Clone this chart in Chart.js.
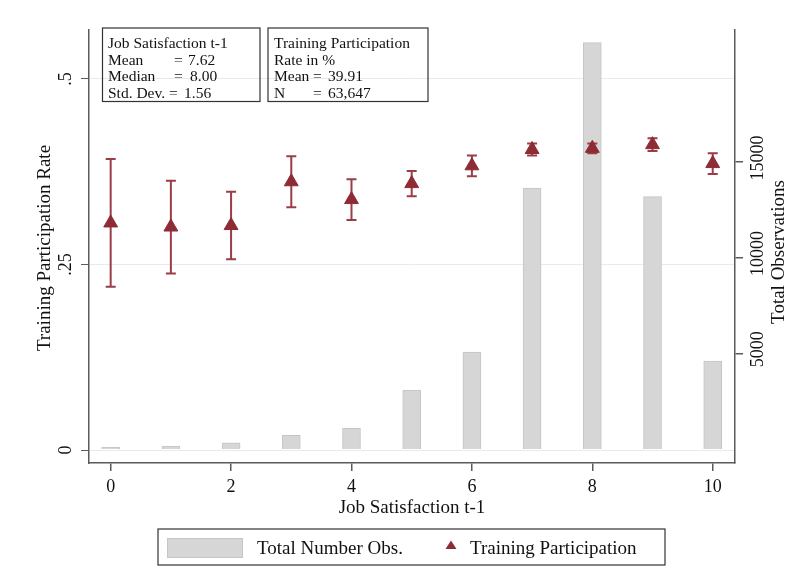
<!DOCTYPE html>
<html>
<head>
<meta charset="utf-8">
<script src="https://cdn.jsdelivr.net/npm/chart.js@4.4.1/dist/chart.umd.min.js"></script>
<style>
  html, body { margin: 0; padding: 0; background: #fff; }
  canvas { display: block; }
</style>
</head>
<body>
<canvas id="chart" width="802" height="587"></canvas>
<script>
// Job satisfaction in the previous year (0-10 scale)
const satisfaction = [0, 1, 2, 3, 4, 5, 6, 7, 8, 9, 10];
// Number of person-year observations per satisfaction level
const observations = [89, 157, 329, 716, 1081, 3083, 5068, 13636, 21228, 13182, 4598];
// Share participating in training, with 95% confidence bounds
const participation = [0.306, 0.3005, 0.3025, 0.3615, 0.3375, 0.359, 0.383, 0.405, 0.4065, 0.4115, 0.386];
const ciLower = [0.220, 0.238, 0.257, 0.327, 0.310, 0.342, 0.369, 0.397, 0.400, 0.403, 0.372];
const ciUpper = [0.392, 0.363, 0.348, 0.396, 0.365, 0.376, 0.397, 0.413, 0.413, 0.420, 0.400];
// Axis ticks
const xTicks = [0, 2, 4, 6, 8, 10];
const rateTicks = [0, 0.25, 0.5];
const rateTickLabels = ['0', '.25', '.5'];
const obsTicks = [5000, 10000, 15000];
// Summary statistics boxes
const satStats = [['Job Satisfaction t-1'], ['Mean', '7.62'], ['Median', '8.00'], ['Std. Dev.', '1.56']];
const rateStats = [['Training Participation'], ['Rate in %'], ['Mean', '39.91'], ['N', '63,647']];

const SERIF = "'Liberation Serif', 'Times New Roman', Times, serif";
const RED = '#8e2c36';
const ERR = '#9b3d47';
const BAR_FILL = '#d6d6d6';
const BAR_EDGE = '#c5c5c5';
const AXIS = '#5a5a5a';
const INK = '#111';

// Error bars drawn just before the triangles so the markers sit on top
const errorBars = {
  id: 'errorBars',
  beforeDatasetDraw(chart, args) {
    if (args.index !== 1) return;
    const { ctx, scales: { x, y } } = chart;
    ctx.save();
    ctx.strokeStyle = ERR;
    ctx.lineWidth = 2;
    satisfaction.forEach((s, i) => {
      const px = x.getPixelForValue(s);
      const top = y.getPixelForValue(ciUpper[i]);
      const bot = y.getPixelForValue(ciLower[i]);
      ctx.beginPath();
      ctx.moveTo(px, top); ctx.lineTo(px, bot);
      ctx.moveTo(px - 5, top); ctx.lineTo(px + 5, top);
      ctx.moveTo(px - 5, bot); ctx.lineTo(px + 5, bot);
      ctx.stroke();
    });
    ctx.restore();
  }
};

// Tick labels, axis titles, stat boxes and legend
const decorations = {
  id: 'decorations',
  afterDraw(chart) {
    const { ctx, chartArea: ca, scales: { x, y, y2 } } = chart;
    ctx.save();
    ctx.fillStyle = INK;

    // x tick labels
    ctx.font = `18px ${SERIF}`;
    ctx.textAlign = 'center';
    ctx.textBaseline = 'middle';
    xTicks.forEach(v => ctx.fillText(String(v), x.getPixelForValue(v), 487));

    // x title
    ctx.font = `19px ${SERIF}`;
    ctx.fillText('Job Satisfaction t-1', (ca.left + ca.right) / 2, 508);

    // vertical tick labels and titles
    const vText = (txt, px, py, font) => {
      ctx.save();
      ctx.translate(px, py);
      ctx.rotate(-Math.PI / 2);
      ctx.font = font;
      ctx.textAlign = 'center';
      ctx.textBaseline = 'middle';
      ctx.fillText(txt, 0, 0);
      ctx.restore();
    };
    rateTicks.forEach((v, i) => vText(rateTickLabels[i], 66, y.getPixelForValue(v), `18px ${SERIF}`));
    obsTicks.forEach(v => vText(String(v), 758, y2.getPixelForValue(v) - 4, `18px ${SERIF}`));
    vText('Training Participation Rate', 45, 248, `19px ${SERIF}`);
    vText('Total Observations', 779, 252, `19px ${SERIF}`);

    // summary boxes
    ctx.strokeStyle = '#333';
    ctx.lineWidth = 1.2;
    ctx.textAlign = 'left';
    ctx.textBaseline = 'alphabetic';
    ctx.font = `15.5px ${SERIF}`;
    const baselines = [48, 64.7, 81.3, 98];
    const drawBox = (rows, left, right, textX, eqX, valX) => {
      ctx.strokeRect(left, 28, right - left, 73.5);
      rows.forEach((r, i) => {
        ctx.fillText(r[0], textX, baselines[i]);
        if (r.length > 1) {
          ctx.fillText('=', eqX[i], baselines[i]);
          ctx.fillText(r[1], valX[i], baselines[i]);
        }
      });
    };
    drawBox(satStats, 102.5, 260, 108, [0, 174, 174, 169], [0, 188, 190, 184]);
    drawBox(rateStats, 268, 428, 274, [0, 0, 313, 313], [0, 0, 328, 328]);

    // legend
    const ds = chart.data.datasets;
    ctx.strokeRect(158, 529, 507, 36);
    ctx.fillStyle = BAR_FILL;
    ctx.fillRect(167, 538, 76, 20);
    ctx.strokeStyle = BAR_EDGE;
    ctx.lineWidth = 1;
    ctx.strokeRect(167.5, 538.5, 75, 19);
    ctx.fillStyle = RED;
    ctx.beginPath();
    ctx.moveTo(451, 540.5);
    ctx.lineTo(456.5, 549);
    ctx.lineTo(445.5, 549);
    ctx.closePath();
    ctx.fill();
    ctx.fillStyle = INK;
    ctx.font = `19px ${SERIF}`;
    ctx.textBaseline = 'middle';
    ctx.fillText(ds[0].label, 257, 549);
    ctx.fillText(ds[1].label, 470, 549);
    ctx.restore();
  }
};

const setTicks = values => scale => { scale.ticks = values.map(v => ({ value: v })); };

new Chart(document.getElementById('chart'), {
  type: 'bar',
  data: {
    datasets: [
      {
        type: 'bar',
        label: 'Total Number Obs.',
        data: satisfaction.map((s, i) => ({ x: s, y: observations[i] })),
        xAxisID: 'x',
        yAxisID: 'y2',
        backgroundColor: BAR_FILL,
        borderColor: BAR_EDGE,
        borderWidth: 1,
        barThickness: 18,
        order: 2
      },
      {
        type: 'line',
        label: 'Training Participation',
        data: satisfaction.map((s, i) => ({ x: s, y: participation[i] })),
        xAxisID: 'x',
        yAxisID: 'y',
        showLine: false,
        pointStyle: 'triangle',
        pointRadius: 8,
        backgroundColor: RED,
        borderColor: RED,
        pointBorderWidth: 1,
        order: 1
      }
    ]
  },
  options: {
    responsive: false,
    animation: false,
    devicePixelRatio: 1,
    layout: { padding: { top: 30, left: 0, right: 0, bottom: 0 }, autoPadding: false },
    plugins: { legend: { display: false }, tooltip: { enabled: false } },
    scales: {
      x: {
        type: 'linear',
        position: 'bottom',
        min: -0.36,
        max: 10.37,
        offset: false,
        grid: { drawOnChartArea: false, drawTicks: true, tickLength: 8, tickColor: AXIS, offset: false, lineWidth: 1.5 },
        border: { color: AXIS, width: 1.5 },
        ticks: { display: false },
        afterBuildTicks: setTicks(xTicks),
        afterFit: s => { s.height = 124; }
      },
      y: {
        type: 'linear',
        position: 'left',
        min: -0.0175,
        max: 0.566,
        grid: { color: '#e3ecef', lineWidth: 1, drawTicks: true, tickLength: 8, tickColor: AXIS },
        border: { color: AXIS, width: 1.5 },
        ticks: { display: false },
        afterBuildTicks: setTicks(rateTicks),
        afterFit: s => { s.width = 89; }
      },
      y2: {
        type: 'linear',
        position: 'right',
        min: -731,
        max: 21891,
        grid: { drawOnChartArea: false, drawTicks: true, tickLength: 8, tickColor: AXIS, lineWidth: 1.5 },
        border: { color: AXIS, width: 1.5 },
        ticks: { display: false },
        afterBuildTicks: setTicks(obsTicks),
        afterFit: s => { s.width = 67; }
      }
    }
  },
  plugins: [errorBars, decorations]
});
</script>
</body>
</html>
